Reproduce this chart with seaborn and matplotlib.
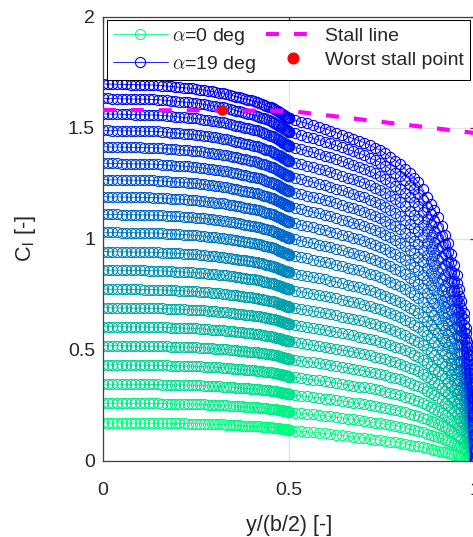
import numpy as np
import pandas as pd
import matplotlib
matplotlib.use("Agg")
import matplotlib.pyplot as plt
from matplotlib.lines import Line2D
import seaborn as sns

# Angles of attack and root section lift coefficient for each sweep
alpha_deg = list(range(20))
cl_root = [0.170, 0.259, 0.345, 0.432, 0.518, 0.604, 0.689, 0.773, 0.859, 0.942,
           1.029, 1.110, 1.189, 1.266, 1.340, 1.414, 1.488, 1.562, 1.632, 1.697]

# Spanwise lift distribution of the lowest and highest angle, inner panel
eta_inner_ref = [0.0, 0.144, 0.25, 0.323, 0.413, 0.46, 0.494, 0.5]
cl_inner_a0 = [0.170, 0.169, 0.167, 0.163, 0.155, 0.149, 0.141, 0.138]
cl_inner_a19 = [1.697, 1.692, 1.675, 1.655, 1.617, 1.585, 1.548, 1.542]

# ... and outer panel
eta_outer_ref = [0.5, 0.6, 0.7, 0.75, 0.8, 0.85, 0.9, 0.93, 0.95, 0.97, 0.985, 0.995, 1.0]
cl_outer_a0 = [0.138, 0.122, 0.102, 0.091, 0.080, 0.064, 0.045, 0.033, 0.024, 0.015, 0.008, 0.003, 0.0]
cl_outer_a19 = [1.542, 1.494, 1.435, 1.395, 1.335, 1.250, 1.100, 0.970, 0.840, 0.660, 0.460, 0.260, 0.0]

# Section stall limit and the critical station
stall_eta = [0.0, 0.5, 1.0]
stall_cl = [1.580, 1.576, 1.476]
worst_eta = [0.321]
worst_cl = [1.580]

x_ticks = [0, 0.5, 1]
x_ticklabels = ["0", "0.5", "1"]
y_ticks = [0, 0.5, 1, 1.5, 2]
y_ticklabels = ["0", "0.5", "1", "1.5", "2"]

# Half-cosine control point distribution on each panel
n_in, n_out = 64, 50
eta_in = 0.5 * np.sin(np.linspace(0.0, np.pi / 2, n_in))
eta_out = 0.5 + 0.5 * np.sin(np.linspace(0.0, np.pi / 2, n_out))

a0_in = np.interp(eta_in, eta_inner_ref, cl_inner_a0)
a19_in = np.interp(eta_in, eta_inner_ref, cl_inner_a19)
a0_out = np.interp(eta_out, eta_outer_ref, cl_outer_a0)
a19_out = np.interp(eta_out, eta_outer_ref, cl_outer_a19)

sns.set_style("white")
plt.rcParams["font.family"] = ["Liberation Sans", "DejaVu Sans"]
plt.rcParams["mathtext.fontset"] = "cm"

fig = plt.figure(figsize=(4.73, 5.37), dpi=100)
ax = fig.add_axes([103 / 473, 76.3 / 537, 372 / 473, 444 / 537])

def sweep_color(a):
    t = a / 19.0
    return (0.0, 1.0 - t, 0.5 + 0.5 * t)

MS, MEW = 7.3, 0.8

for a, r in zip(alpha_deg, cl_root):
    w = (r - cl_root[0]) / (cl_root[-1] - cl_root[0])
    cl_in = a0_in + w * (a19_in - a0_in)
    cl_out = a0_out + w * (a19_out - a0_out)
    df = pd.DataFrame({
        "eta": np.concatenate([eta_in, eta_out]),
        "cl": np.concatenate([cl_in, cl_out]),
        "panel": ["inner"] * n_in + ["outer"] * n_out,
    })
    c = sweep_color(a)
    sns.lineplot(data=df, x="eta", y="cl", units="panel", estimator=None, sort=False,
                 color=c, lw=0.6, marker="o", markersize=MS, markerfacecolor="none",
                 markeredgecolor=c, markeredgewidth=MEW, legend=False, ax=ax, zorder=2)

sns.lineplot(x=stall_eta, y=stall_cl, color="#ff00ff", lw=3.0, linestyle=(0, (3.1, 3.6)),
             dash_capstyle="butt", estimator=None, sort=False, legend=False, ax=ax, zorder=3)
sns.scatterplot(x=worst_eta, y=worst_cl, color="red", s=59, linewidth=0, legend=False,
                ax=ax, zorder=4)

ax.set_xlim(0, 1)
ax.set_ylim(0, 2)
ax.set_xticks(x_ticks)
ax.set_xticklabels(x_ticklabels)
ax.set_yticks(y_ticks)
ax.set_yticklabels(y_ticklabels)
ax.grid(True, color="#e3e3e3", lw=0.9)
ax.set_axisbelow(True)
for s in ax.spines.values():
    s.set_color("#404040")
    s.set_linewidth(0.9)
ax.tick_params(axis="both", direction="in", length=3.6, width=0.9, colors="#404040",
               labelcolor="#262626", labelsize=14, top=True, right=True)
ax.tick_params(axis="x", pad=15)
ax.tick_params(axis="y", pad=5.8)

ax.set_xlabel("y/(b/2) [-]", fontsize=15.5, color="#262626")
ax.set_ylabel(r"C$_{\mathregular{l}}$ [-]", fontsize=15.5, color="#262626")
ax.xaxis.set_label_coords(0.5, -0.122)
ax.yaxis.set_label_coords(-0.175, 0.5)

handles = [
    Line2D([], [], color=sweep_color(0), lw=0.6, marker="o", markersize=MS,
           markerfacecolor="none", markeredgewidth=MEW),
    Line2D([], [], color=sweep_color(19), lw=0.6, marker="o", markersize=MS,
           markerfacecolor="none", markeredgewidth=MEW),
    Line2D([], [], color="#ff00ff", lw=3.0, linestyle=(0, (3.1, 3.6))),
    Line2D([], [], color="red", lw=0, marker="o", markersize=7.7),
]
labels = [r"$\alpha$=0 deg", r"$\alpha$=19 deg", "Stall line", "Worst stall point"]
leg = ax.legend(handles, labels, loc="upper left", bbox_to_anchor=(0.0116, 0.9926),
                borderaxespad=0, ncol=2, fontsize=14, handlelength=2.8, handletextpad=0.25,
                columnspacing=0.45, borderpad=0.3, labelspacing=0.35, fancybox=False,
                framealpha=1, numpoints=1)
leg.get_frame().set_edgecolor("black")
leg.get_frame().set_linewidth(0.75)

fig.savefig("out.png", dpi=100)
